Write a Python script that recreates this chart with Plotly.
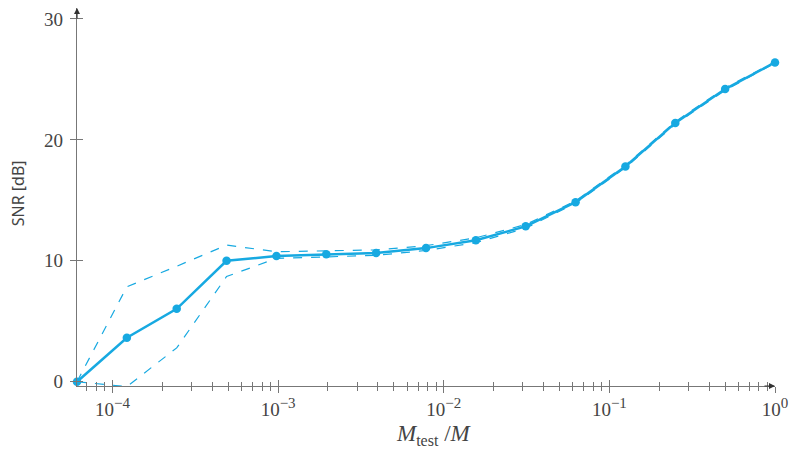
import plotly.graph_objects as go

# data: M_test/M = 2^-14 ... 2^0
exponents = list(range(-14, 1))
x_vals = [2.0 ** e for e in exponents]
snr_mean = [0.0, 3.64, 6.03, 10.0, 10.4, 10.55, 10.65, 11.05, 11.7, 12.85, 14.85, 17.8, 21.4, 24.2, 26.4]
snr_upper = [0.0, 7.85, 9.55, 11.3, 10.75, 10.85, 10.9, 11.25, 11.9, 13.0, 14.95, 17.9, 21.5, 24.3, 26.45]
snr_lower = [0.0, -0.4, 2.8, 8.7, 10.2, 10.3, 10.45, 10.85, 11.5, 12.7, 14.75, 17.7, 21.3, 24.1, 26.35]
y_ticks = [0, 10, 20, 30]
x_tick_vals = [1e-4, 1e-3, 1e-2, 1e-1, 1]
x_tick_exp = ["−4", "−3", "−2", "−1", "0"]
x_tick_text = ["10<sup><span style='font-size:15px'>%s</span></sup>" % e for e in x_tick_exp]
x_minor_vals = [k * 10.0 ** d for d in range(-5, 0) for k in range(2, 10) if k * 10.0 ** d >= 2.0 ** -14]

color = "#17a9e1"
axis_col = "#777777"
label_col = "#444444"
serif = "Liberation Serif, DejaVu Serif, serif"

fig = go.Figure()
fig.add_trace(go.Scatter(x=x_vals, y=snr_upper, mode="lines",
                         line=dict(color=color, width=1.2, dash="dash"), showlegend=False))
fig.add_trace(go.Scatter(x=x_vals, y=snr_lower, mode="lines",
                         line=dict(color=color, width=1.2, dash="dash"), showlegend=False))
fig.add_trace(go.Scatter(x=x_vals, y=snr_mean, mode="lines+markers",
                         line=dict(color=color, width=2.5),
                         marker=dict(color=color, size=8.5), showlegend=False, cliponaxis=False))

xr = [-14 * 0.30103, 0]
yr = [-0.35, 30.9]

fig.update_layout(
    width=790, height=449,
    margin=dict(l=77, r=15, t=8, b=63),
    plot_bgcolor="white", paper_bgcolor="white",
    xaxis=dict(type="log", range=xr, showgrid=False, zeroline=False, automargin=False,
               showline=True, linecolor=axis_col, linewidth=1.2,
               ticks="outside", ticklen=6, tickcolor=axis_col, tickwidth=1,
               tickmode="array", tickvals=x_tick_vals, ticktext=x_tick_text,
               tickfont=dict(family=serif, size=19, color=label_col),
               minor=dict(ticks="outside", ticklen=4, tickcolor=axis_col,
                          tickmode="array", tickvals=x_minor_vals, showgrid=False)),
    xaxis2=dict(type="log", range=xr, overlaying="x", showgrid=False, zeroline=False,
                showline=False, ticks="inside", ticklen=6, tickcolor=axis_col,
                tickmode="array", tickvals=x_tick_vals,
                showticklabels=False, anchor="y", automargin=False,
                minor=dict(ticks="inside", ticklen=4, tickcolor=axis_col,
                           tickmode="array", tickvals=x_minor_vals, showgrid=False)),
    yaxis=dict(range=yr, showgrid=False, zeroline=False, automargin=False,
               showline=True, linecolor=axis_col, linewidth=1.2,
               ticks="outside", ticklen=6, tickcolor=axis_col, tickwidth=1,
               tickvals=y_ticks, ticklabelstandoff=3,
               tickfont=dict(family=serif, size=19, color=label_col)),
    yaxis2=dict(range=yr, overlaying="y", showgrid=False, zeroline=False, showline=False,
                ticks="inside", ticklen=6, tickcolor=axis_col, tickvals=y_ticks,
                showticklabels=False, anchor="x", automargin=False),
)
# invisible traces to activate overlay axes
fig.add_trace(go.Scatter(x=[x_vals[0]], y=[0], xaxis="x2", yaxis="y", mode="markers",
                         marker=dict(opacity=0), showlegend=False, hoverinfo="skip"))
fig.add_trace(go.Scatter(x=[x_vals[0]], y=[0], xaxis="x", yaxis="y2", mode="markers",
                         marker=dict(opacity=0), showlegend=False, hoverinfo="skip"))

# axis titles
fig.add_annotation(x=0.511, y=-0.13, xref="paper", yref="paper", xanchor="center", yanchor="middle",
                   showarrow=False,
                   text="<i>M</i><sub><span style='font-size:16px'>test</span></sub> /<i>M</i>",
                   font=dict(family=serif, size=23, color=label_col))
fig.add_annotation(x=-0.0845, y=0.51, xref="paper", yref="paper", xanchor="center", yanchor="middle",
                   showarrow=False, text="SNR [dB]", textangle=-90,
                   font=dict(family="Noto Sans, sans-serif", size=16, color=label_col))

# axis arrows
fig.add_annotation(x=1, y=0, xref="paper", yref="paper", ax=-12, ay=0, axref="pixel", ayref="pixel",
                   showarrow=True, arrowhead=2, arrowsize=1, arrowwidth=1.2, arrowcolor="#333333", text="")
fig.add_annotation(x=0, y=1, xref="paper", yref="paper", ax=0, ay=12, axref="pixel", ayref="pixel",
                   showarrow=True, arrowhead=2, arrowsize=1, arrowwidth=1.2, arrowcolor="#333333", text="")

fig.write_html("out.html", config={"displayModeBar": False},
               post_script="document.body.style.margin='0';")
